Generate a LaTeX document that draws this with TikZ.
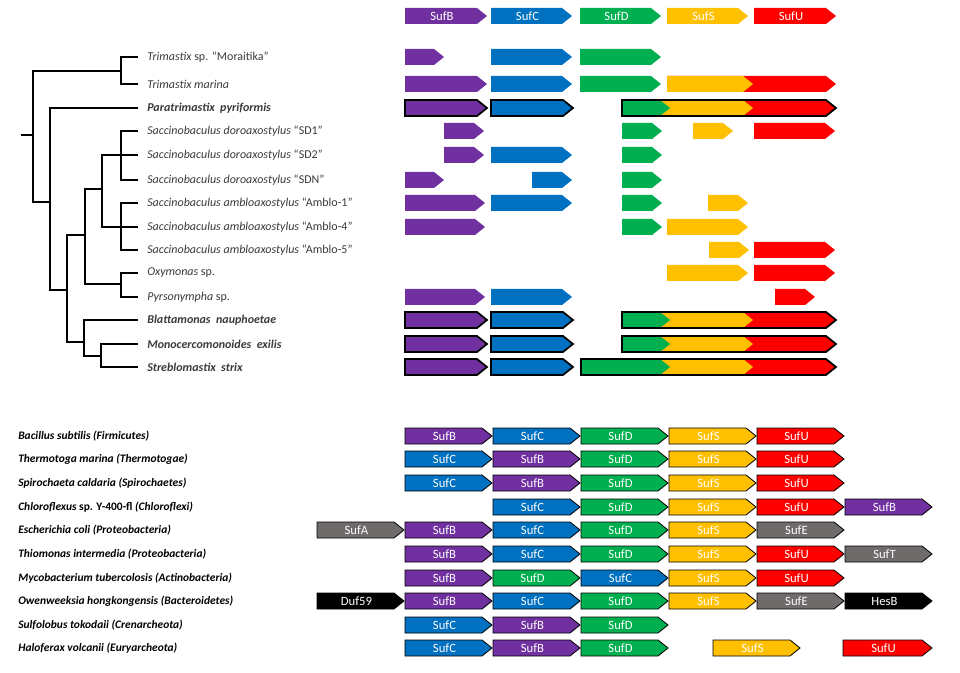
\documentclass[tikz,border=0pt]{standalone}
\usepackage{fontspec}
\setmainfont{Carlito}
\definecolor{sufb}{HTML}{7030A0}
\definecolor{sufc}{HTML}{0070C0}
\definecolor{sufd}{HTML}{00B050}
\definecolor{sufs}{HTML}{FFC000}
\definecolor{sufu}{HTML}{FF0000}
\definecolor{sufe}{HTML}{6F6B6B}
\definecolor{taxon}{HTML}{3A3A3A}
\tikzset{
  genelabel/.style={text=white,font=\fontsize{9.5}{11}\selectfont,inner sep=0pt},
  taxlabel/.style={anchor=west,text=taxon,font=\fontsize{9}{11}\selectfont,inner sep=0pt},
  strainlabel/.style={anchor=west,font=\fontsize{8.6}{11}\selectfont\bfseries\itshape,inner sep=0pt},
  branch/.style={line width=1.5pt,line cap=rect},
  boxed/.style={draw=black,line width=1.3pt},
  thinbox/.style={draw=black,line width=0.6pt}
}
% gene arrow: [style]{x1}{x2}{y}{colour}{label}
\newcommand{\gene}[6][]{%
  \path[fill=#5,#1] (#2,#4-8) -- ({(#3)-10},#4-8) -- (#3,#4) -- ({(#3)-10},#4+8) -- (#2,#4+8) -- cycle;
  \node[genelabel] at ({((#2)+(#3))/2-4},#4) {#6};}
% fused SufD-SufS-SufU: {x1}{end of D}{end of S}{x2}{y}
\newcommand{\fused}[5]{%
  \gene{#1}{#4}{#5}{sufu}{}
  \gene{#1}{#3}{#5}{sufs}{}
  \gene{#1}{#2}{#5}{sufd}{}
  \gene[boxed,fill=none]{#1}{#4}{#5}{none}{}}
% bottom column gene: {column}{y}{colour}{label}
\newcommand{\cgene}[4]{\gene[thinbox]{317+88*#1}{404+88*#1}{#2}{#3}{#4}}
\begin{document}
\begin{tikzpicture}[x=0.75pt,y=-0.75pt]
\useasboundingbox (0,0) rectangle (960,673);

% legend
\gene{405}{487}{16}{sufb}{SufB}
\gene{491}{572}{16}{sufc}{SufC}
\gene{580}{661}{16}{sufd}{SufD}
\gene{667}{748}{16}{sufs}{SufS}
\gene{754}{836}{16}{sufu}{SufU}

% tree
\draw[branch] (22,135) -- (33,135);
\draw[branch] (33,71) -- (33,202);
\draw[branch] (33,71) -- (121,71);
\draw[branch] (121,57) -- (121,84);
\draw[branch] (33,202) -- (50,202);
\draw[branch] (50,108) -- (50,290);
\draw[branch] (50,290) -- (67,290);
\draw[branch] (67,235) -- (67,342);
\draw[branch] (67,235) -- (85,235);
\draw[branch] (85,189) -- (85,284);
\draw[branch] (85,189) -- (102,189);
\draw[branch] (102,155) -- (102,227);
\draw[branch] (102,155) -- (121,155);
\draw[branch] (121,131) -- (121,180);
\draw[branch] (102,227) -- (121,227);
\draw[branch] (121,203) -- (121,250);
\draw[branch] (85,284) -- (121,284);
\draw[branch] (121,273) -- (121,297);
\draw[branch] (67,342) -- (84,342);
\draw[branch] (84,320) -- (84,356);
\draw[branch] (84,356) -- (101,356);
\draw[branch] (101,344) -- (101,367);
\foreach \y in {57,84,131,155,180,203,227,250,273,297} \draw[branch] (121,\y) -- (137,\y);
\draw[branch] (50,108) -- (137,108);
\draw[branch] (84,320) -- (137,320);
\draw[branch] (101,344) -- (137,344);
\draw[branch] (101,367) -- (137,367);

% taxa
\node[taxlabel] (morai) at (147,57) {\textit{Trimastix} sp. “Moraitika”};
\node[taxlabel] (tmar) at (147,84) {\textit{Trimastix marina}};
\node[taxlabel] (ppyr) at (147,108) {\textbf{\textit{Paratrimastix\ \ pyriformis}}};
\node[taxlabel] (sd1) at (147,131) {\textit{Saccinobaculus doroaxostylus} “SD1”};
\node[taxlabel] (sd2) at (147,155) {\textit{Saccinobaculus doroaxostylus} “SD2”};
\node[taxlabel] (sdn) at (147,180) {\textit{Saccinobaculus doroaxostylus} “SDN”};
\node[taxlabel] (am1) at (147,203) {\textit{Saccinobaculus ambloaxostylus} “Amblo-1”};
\node[taxlabel] (am4) at (147,227) {\textit{Saccinobaculus ambloaxostylus} “Amblo-4”};
\node[taxlabel] (am5) at (147,250) {\textit{Saccinobaculus ambloaxostylus} “Amblo-5”};
\node[taxlabel] (oxy) at (147,273) {\textit{Oxymonas} sp.};
\node[taxlabel] (pyr) at (147,297) {\textit{Pyrsonympha} sp.};
\node[taxlabel] (bla) at (147,320) {\textbf{\textit{Blattamonas\ \ nauphoetae}}};
\node[taxlabel] (mon) at (147,344) {\textbf{\textit{Monocercomonoides\ \ exilis}}};
\node[taxlabel] (str) at (147,367) {\textbf{\textit{Streblomastix\ \ strix}}};

% eukaryote gene sets
\gene{405}{444}{57}{sufb}{} \gene{491}{572}{57}{sufc}{} \gene{580}{661}{57}{sufd}{}
\gene{405}{487}{84}{sufb}{} \gene{491}{572}{84}{sufc}{} \gene{580}{661}{84}{sufd}{}
\gene{667}{836}{84}{sufu}{} \gene{667}{753}{84}{sufs}{}
\gene[boxed]{405}{487}{108}{sufb}{} \gene[boxed]{491}{573}{108}{sufc}{}
\fused{622}{670}{753}{836}{108}
\gene{444}{484}{131}{sufb}{} \gene{622}{662}{131}{sufd}{} \gene{693}{733}{131}{sufs}{} \gene{754}{835}{131}{sufu}{}
\gene{444}{484}{155}{sufb}{} \gene{491}{572}{155}{sufc}{} \gene{622}{662}{155}{sufd}{}
\gene{405}{444}{180}{sufb}{} \gene{532}{572}{180}{sufc}{} \gene{622}{662}{180}{sufd}{}
\gene{405}{485}{203}{sufb}{} \gene{491}{572}{203}{sufc}{} \gene{622}{662}{203}{sufd}{} \gene{708}{748}{203}{sufs}{}
\gene{405}{485}{227}{sufb}{} \gene{622}{662}{227}{sufd}{} \gene{667}{748}{227}{sufs}{}
\gene{709}{749}{250}{sufs}{} \gene{754}{835}{250}{sufu}{}
\gene{667}{748}{273}{sufs}{} \gene{754}{835}{273}{sufu}{}
\gene{405}{485}{297}{sufb}{} \gene{491}{572}{297}{sufc}{} \gene{775}{815}{297}{sufu}{}
\gene[boxed]{405}{487}{320}{sufb}{} \gene[boxed]{491}{573}{320}{sufc}{}
\fused{622}{670}{753}{836}{320}
\gene[boxed]{405}{487}{344}{sufb}{} \gene[boxed]{491}{573}{344}{sufc}{}
\fused{622}{670}{753}{836}{344}
\gene[boxed]{405}{487}{367}{sufb}{} \gene[boxed]{491}{573}{367}{sufc}{}
\fused{581}{670}{753}{836}{367}

% prokaryotes
\node[strainlabel] (bsub) at (18,436) {\textit{Bacillus subtilis} (\textit{Firmicutes})};
\node[strainlabel] (tmari) at (18,459) {\textit{Thermotoga marina} (\textit{Thermotogae})};
\node[strainlabel] (scal) at (18,483) {\textit{Spirochaeta caldaria} (\textit{Spirochaetes})};
\node[strainlabel] (chlo) at (18,507) {\textit{Chloroflexus} \upshape sp. Y-400-fl \itshape(\textit{Chloroflexi})};
\node[strainlabel] (ecol) at (18,530) {\textit{Escherichia coli} (\textit{Proteobacteria})};
\node[strainlabel] (tint) at (18,554) {\textit{Thiomonas intermedia} (\textit{Proteobacteria})};
\node[strainlabel] (mtub) at (18,578) {\textit{Mycobacterium tubercolosis} (\textit{Actinobacteria})};
\node[strainlabel] (ohon) at (18,601) {\textit{Owenweeksia hongkongensis} (\textit{Bacteroidetes})};
\node[strainlabel] (stok) at (18,625) {\textit{Sulfolobus tokodaii} (\textit{Crenarcheota})};
\node[strainlabel] (hvol) at (18,648) {\textit{Haloferax volcanii} (\textit{Euryarcheota})};

\foreach \c/\n [count=\i] in {sufb/SufB,sufc/SufC,sufd/SufD,sufs/SufS,sufu/SufU} \cgene{\i}{436}{\c}{\n};
\foreach \c/\n [count=\i] in {sufc/SufC,sufb/SufB,sufd/SufD,sufs/SufS,sufu/SufU} \cgene{\i}{459}{\c}{\n};
\foreach \c/\n [count=\i] in {sufc/SufC,sufb/SufB,sufd/SufD,sufs/SufS,sufu/SufU} \cgene{\i}{483}{\c}{\n};
\foreach \c/\n [count=\i from 2] in {sufc/SufC,sufd/SufD,sufs/SufS,sufu/SufU,sufb/SufB} \cgene{\i}{507}{\c}{\n};
\foreach \c/\n [count=\i from 0] in {sufe/SufA,sufb/SufB,sufc/SufC,sufd/SufD,sufs/SufS,sufe/SufE} \cgene{\i}{530}{\c}{\n};
\foreach \c/\n [count=\i] in {sufb/SufB,sufc/SufC,sufd/SufD,sufs/SufS,sufu/SufU,sufe/SufT} \cgene{\i}{554}{\c}{\n};
\foreach \c/\n [count=\i] in {sufb/SufB,sufd/SufD,sufc/SufC,sufs/SufS,sufu/SufU} \cgene{\i}{578}{\c}{\n};
\foreach \c/\n [count=\i from 0] in {black/Duf59,sufb/SufB,sufc/SufC,sufd/SufD,sufs/SufS,sufe/SufE,black/HesB} \cgene{\i}{601}{\c}{\n};
\foreach \c/\n [count=\i] in {sufc/SufC,sufb/SufB,sufd/SufD} \cgene{\i}{625}{\c}{\n};
\foreach \c/\n [count=\i] in {sufc/SufC,sufb/SufB,sufd/SufD} \cgene{\i}{648}{\c}{\n};
\gene[thinbox]{713}{800}{648}{sufs}{SufS}
\gene[thinbox]{843}{932}{648}{sufu}{SufU}
\end{tikzpicture}
\end{document}
